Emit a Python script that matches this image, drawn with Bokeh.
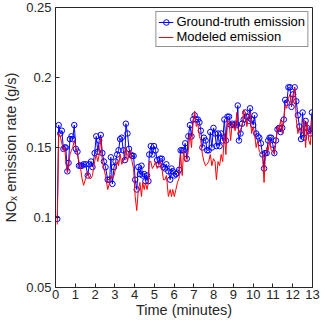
from bokeh.plotting import figure
from bokeh.models import Range1d, FixedTicker, Legend, LegendItem
from bokeh.embed import file_html
from bokeh.resources import INLINE

time_min = [0.09, 0.16, 0.24, 0.32, 0.40, 0.47, 0.52, 0.60, 0.66, 0.73,
            0.81, 0.87, 0.95, 1.03, 1.11, 1.19, 1.27, 1.34, 1.42, 1.53,
            1.63, 1.71, 1.80, 1.87, 1.98, 2.06, 2.14, 2.21, 2.29, 2.37,
            2.45, 2.53, 2.64, 2.74, 2.80, 2.88, 2.96, 3.04, 3.12, 3.19,
            3.27, 3.35, 3.43, 3.51, 3.56, 3.64, 3.72, 3.80, 3.87, 3.95,
            4.03, 4.11, 4.19, 4.27, 4.35, 4.41, 4.49, 4.55, 4.63, 4.70,
            4.74, 4.82, 4.90, 4.98, 5.06, 5.14, 5.22, 5.30, 5.38, 5.46,
            5.54, 5.61, 5.71, 5.80, 5.87, 5.93, 6.01, 6.09, 6.17, 6.25,
            6.33, 6.41, 6.48, 6.56, 6.64, 6.72, 6.80, 6.88, 6.96, 7.04,
            7.12, 7.20, 7.28, 7.35, 7.43, 7.51, 7.59, 7.67, 7.75, 7.83,
            7.91, 7.99, 8.07, 8.14, 8.22, 8.30, 8.38, 8.46, 8.54, 8.62,
            8.70, 8.78, 8.86, 8.94, 9.01, 9.09, 9.17, 9.22, 9.28, 9.36,
            9.44, 9.52, 9.60, 9.68, 9.76, 9.84, 9.92, 10.00, 10.07, 10.15,
            10.23, 10.31, 10.39, 10.47, 10.55, 10.60, 10.68, 10.76, 10.83, 10.91,
            10.99, 11.07, 11.15, 11.23, 11.31, 11.39, 11.47, 11.55, 11.62, 11.70,
            11.78, 11.86, 11.94, 12.02, 12.10, 12.18, 12.26, 12.34, 12.42, 12.50,
            12.57, 12.65, 12.73, 12.81, 12.89, 12.97]

ground_truth = [0.099, 0.166, 0.160, 0.162, 0.149, 0.150, 0.150, 0.133, 0.139, 0.156,
                0.158, 0.156, 0.166, 0.149, 0.147, 0.137, 0.137, 0.137, 0.138, 0.138,
                0.130, 0.138, 0.140, 0.136, 0.146, 0.158, 0.147, 0.155, 0.159, 0.146,
                0.140, 0.136, 0.127, 0.127, 0.143, 0.124, 0.136, 0.140, 0.145, 0.148,
                0.156, 0.157, 0.148, 0.141, 0.167, 0.160, 0.149, 0.145, 0.144, 0.144,
                0.127, 0.120, 0.136, 0.131, 0.137, 0.130, 0.131, 0.126, 0.130, 0.126,
                0.145, 0.151, 0.145, 0.151, 0.148, 0.141, 0.138, 0.142, 0.142, 0.136,
                0.135, 0.138, 0.133, 0.127, 0.135, 0.133, 0.130, 0.131, 0.132, 0.134,
                0.148, 0.148, 0.148, 0.153, 0.142, 0.158, 0.166, 0.158, 0.170, 0.173,
                0.170, 0.170, 0.168, 0.162, 0.150, 0.157, 0.155, 0.148, 0.148, 0.161,
                0.150, 0.164, 0.160, 0.151, 0.160, 0.151, 0.160, 0.155, 0.170, 0.155,
                0.172, 0.172, 0.166, 0.167, 0.166, 0.167, 0.166, 0.180, 0.155, 0.160,
                0.167, 0.170, 0.175, 0.172, 0.169, 0.178, 0.170, 0.166, 0.173, 0.160,
                0.158, 0.157, 0.153, 0.145, 0.135, 0.146, 0.146, 0.155, 0.157, 0.157,
                0.152, 0.146, 0.155, 0.163, 0.164, 0.161, 0.164, 0.170, 0.184, 0.182,
                0.193, 0.193, 0.179, 0.188, 0.193, 0.183, 0.173, 0.165, 0.156, 0.175,
                0.157, 0.169, 0.164, 0.162, 0.160, 0.175]

modeled = [0.095, 0.160, 0.158, 0.153, 0.148, 0.150, 0.140, 0.132, 0.135, 0.145,
           0.148, 0.150, 0.155, 0.150, 0.145, 0.140, 0.135, 0.128, 0.123, 0.128,
           0.133, 0.128, 0.128, 0.130, 0.140, 0.145, 0.140, 0.145, 0.157, 0.140,
           0.135, 0.130, 0.120, 0.125, 0.130, 0.128, 0.130, 0.135, 0.140, 0.137,
           0.145, 0.138, 0.140, 0.147, 0.150, 0.140, 0.145, 0.148, 0.140, 0.135,
           0.115, 0.105, 0.120, 0.125, 0.115, 0.125, 0.120, 0.125, 0.120, 0.125,
           0.140, 0.140, 0.135, 0.137, 0.140, 0.135, 0.137, 0.140, 0.135, 0.127,
           0.127, 0.130, 0.115, 0.120, 0.115, 0.120, 0.115, 0.120, 0.125, 0.128,
           0.145, 0.130, 0.148, 0.140, 0.140, 0.148, 0.160, 0.150, 0.168, 0.176,
           0.165, 0.167, 0.158, 0.155, 0.145, 0.140, 0.137, 0.138, 0.140, 0.145,
           0.137, 0.142, 0.140, 0.127, 0.140, 0.137, 0.145, 0.140, 0.160, 0.145,
           0.170, 0.168, 0.155, 0.168, 0.165, 0.162, 0.175, 0.165, 0.160, 0.163,
           0.165, 0.177, 0.175, 0.165, 0.172, 0.175, 0.160, 0.165, 0.160, 0.150,
           0.155, 0.147, 0.146, 0.145, 0.125, 0.140, 0.150, 0.148, 0.155, 0.148,
           0.148, 0.145, 0.155, 0.165, 0.162, 0.170, 0.160, 0.170, 0.180, 0.178,
           0.185, 0.188, 0.180, 0.185, 0.193, 0.170, 0.160, 0.165, 0.162, 0.160,
           0.170, 0.150, 0.168, 0.155, 0.152, 0.170]

x_ticks = list(range(0, 14))
y_ticks = [0.05, 0.1, 0.15, 0.2, 0.25]
y_tick_labels = ["0.05", "0.1", "0.15", "0.2", "0.25"]

FONT = "Liberation Sans"
TXT = "#262626"
AX = "#262626"

p = figure(width=320, height=320, output_backend="svg", toolbar_location=None,
           x_range=Range1d(0, 13), y_range=Range1d(0.05, 0.25),
           min_border_left=47, min_border_right=8, min_border_top=7, min_border_bottom=28,
           background_fill_color="white", border_fill_color="white")
p.xgrid.visible = False
p.ygrid.visible = False
p.outline_line_color = AX
p.outline_line_width = 1

xa = p.xaxis[0]
ya = p.yaxis[0]
for ax in (xa, ya):
    ax.major_tick_in = 4
    ax.major_tick_out = 0
    ax.minor_tick_in = 0
    ax.minor_tick_out = 0
    ax.axis_line_color = AX
    ax.major_tick_line_color = AX
    ax.major_label_text_font = FONT
    ax.major_label_text_font_size = "13px"
    ax.major_label_text_color = TXT
    ax.axis_label_text_font = FONT
    ax.axis_label_text_font_size = "14.5px"
    ax.axis_label_text_font_style = "normal"
    ax.axis_label_text_color = TXT

xa.ticker = FixedTicker(ticks=x_ticks)
ya.ticker = FixedTicker(ticks=y_ticks)
ya.major_label_overrides = dict(zip(y_ticks, y_tick_labels))
xa.axis_label = "Time (minutes)"
ya.axis_label = "NOₓ emission rate (g/s)"
xa.axis_label_standoff = 0
ya.axis_label_standoff = 4
xa.major_label_standoff = 2
ya.major_label_standoff = 4

gt_line = p.line(time_min, ground_truth, line_color="#0000ff", line_width=1)
gt_mark = p.scatter(time_min, ground_truth, marker="circle", size=5.5,
                    line_color="#0000ff", fill_color=None, line_width=1)
md_line = p.line(time_min, modeled, line_color="#ff0000", line_width=1)

legend = Legend(items=[LegendItem(label="Ground-truth emission", renderers=[gt_line, gt_mark]),
                       LegendItem(label="Modeled emission", renderers=[md_line])],
                location="top_right")
legend.label_text_font = FONT
legend.label_text_font_size = "13px"
legend.label_text_color = "#000000"
legend.glyph_width = 15
legend.glyph_height = 14
legend.label_height = 14
legend.spacing = 0
legend.padding = 2
legend.margin = 4
legend.label_standoff = 3
legend.border_line_color = AX
legend.border_line_width = 1
legend.background_fill_alpha = 1
p.add_layout(legend, "center")

open("out.html", "w").write(file_html(p, INLINE))
